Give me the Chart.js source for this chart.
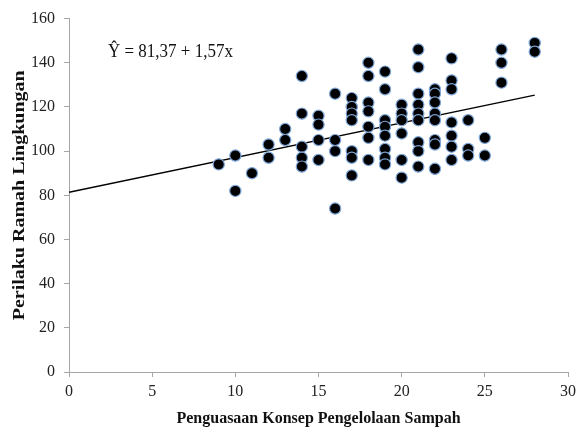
<!DOCTYPE html>
<html>
<head>
<meta charset="utf-8">
<script src="https://cdn.jsdelivr.net/npm/chart.js@4/dist/chart.umd.min.js"></script>
<style>
  html, body { margin: 0; padding: 0; background: #fff; }
  #wrap { width: 584px; height: 434px; }
</style>
</head>
<body>
<div id="wrap"><canvas id="scatter-chart"></canvas></div>
<script>
        // scores, one pair per student
        const konsep = [
            9,
            10, 10,
            11,
            12, 12,
            13, 13,
            14, 14, 14, 14, 14,
            15, 15, 15, 15,
            16, 16, 16, 16,
            17, 17, 17, 17, 17, 17, 17,
            18, 18, 18, 18, 18, 18, 18,
            19, 19, 19, 19, 19, 19, 19, 19,
            20, 20, 20, 20, 20, 20,
            21, 21, 21, 21, 21, 21, 21, 21, 21,
            22, 22, 22, 22, 22, 22, 22, 22,
            23, 23, 23, 23, 23, 23, 23,
            24, 24, 24,
            25, 25,
            26, 26, 26,
            28, 28,
        ];
        const perilaku = [
            94,
            98, 82,
            90,
            103, 97,
            110, 105,
            134, 117, 102, 97, 93,
            116, 112, 105, 96,
            126, 105, 100, 74,
            124, 120, 117, 114, 100, 97, 89,
            140, 134, 122, 118, 111, 106, 96,
            136, 128, 114, 111, 107, 101, 97, 94,
            121, 117, 114, 108, 96, 88,
            146, 138, 126, 121, 117, 114, 104, 100, 93,
            128, 126, 122, 117, 114, 105, 103, 92,
            142, 132, 128, 113, 107, 102, 96,
            114, 101, 98,
            106, 98,
            146, 140, 131,
            149, 145,
        ];

        // regression line Y = a + b x, drawn from x = 0 to 28
        const intercept = 81.37;
        const slope = 1.57;
        const lineRange = [0, 28];

        const xTicks = [0, 5, 10, 15, 20, 25, 30];
        const yTicks = [0, 20, 40, 60, 80, 100, 120, 140, 160];

        const xTitle = 'Penguasaan Konsep Pengelolaan Sampah';
        const yTitle = 'Perilaku Ramah Lingkungan';
        const equation = 'Ŷ = 81,37 + 1,57x';

        const serif = '"Liberation Serif", "Times New Roman", serif';

        // the y title and the equation look stretched in the original, so draw them by hand
        const extraText = {
            id: 'extraText',
            afterDatasetsDraw(chart) {
                const ctx = chart.ctx;
                const area = chart.chartArea;

                ctx.save();
                ctx.font = '17px ' + serif;
                ctx.fillStyle = '#111';
                ctx.textBaseline = 'middle';
                ctx.translate(108, 52);
                ctx.scale(1, 1.15);
                ctx.fillText(equation, 0, 0);
                ctx.restore();

                ctx.save();
                ctx.font = 'bold 16px ' + serif;
                ctx.fillStyle = '#111';
                ctx.textAlign = 'center';
                ctx.textBaseline = 'middle';
                ctx.translate(20, (area.top + area.bottom) / 2);
                ctx.rotate(-Math.PI / 2);
                ctx.scale(1.25, 1);
                ctx.fillText(yTitle, 0, 0);
                ctx.restore();
            }
        };

        function createChart() {
            const ctx = document.getElementById('scatter-chart').getContext('2d');

            new Chart(ctx, {
                data: {
                    datasets: [
                        {
                            type: 'line',
                            data: lineRange.map(x => ({ x: x, y: intercept + slope * x })),
                            borderColor: '#000',
                            borderWidth: 1.3,
                            pointRadius: 0,
                            fill: false,
                            order: 2,
                        },
                        {
                            type: 'scatter',
                            data: konsep.map((x, i) => ({ x: x, y: perilaku[i] })),
                            backgroundColor: '#000',
                            borderColor: '#7ea6d8',
                            borderWidth: 1.2,
                            pointRadius: 5.6,
                            order: 1,
                        },
                    ],
                },
                options: {
                    responsive: true,
                    maintainAspectRatio: false,
                    animation: false,
                    layout: {
                        padding: { top: 15, right: 16, left: 0, bottom: 0 },
                    },
                    plugins: {
                        legend: { display: false },
                        tooltip: { enabled: false },
                    },
                    scales: {
                        x: {
                            type: 'linear',
                            min: 0,
                            max: 30,
                            afterBuildTicks: s => { s.ticks = xTicks.map(v => ({ value: v })); },
                            afterFit: s => { s.height = 62; },
                            grid: {
                                drawOnChartArea: false,
                                tickLength: 5,
                                color: '#a6a6a6',
                            },
                            border: { color: '#a6a6a6', width: 1 },
                            ticks: {
                                padding: 5,
                                color: '#222',
                                font: { family: serif, size: 16 },
                            },
                            title: {
                                display: true,
                                text: xTitle,
                                color: '#111',
                                font: { family: serif, size: 16, weight: 'bold' },
                                padding: { top: 0, bottom: 6 },
                            },
                        },
                        y: {
                            min: 0,
                            max: 160,
                            afterBuildTicks: s => { s.ticks = yTicks.map(v => ({ value: v })); },
                            afterFit: s => { s.width = 69; },
                            grid: {
                                drawOnChartArea: false,
                                tickLength: 5,
                                color: '#a6a6a6',
                            },
                            border: { color: '#a6a6a6', width: 1 },
                            ticks: {
                                padding: 9,
                                color: '#222',
                                font: { family: serif, size: 16 },
                            },
                            title: { display: false },
                        },
                    },
                },
                plugins: [extraText],
            });
        }

        createChart();
</script>
</body>
</html>
